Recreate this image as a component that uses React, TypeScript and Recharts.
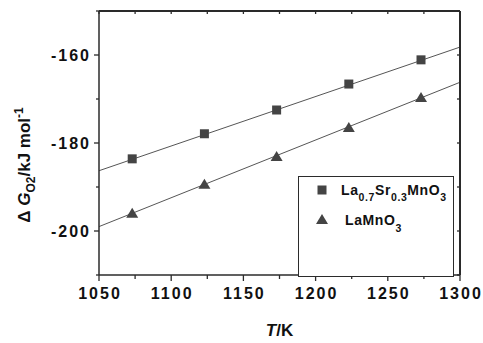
import React from "react";
import {
  ComposedChart,
  Line,
  Scatter,
  XAxis,
  YAxis,
  Legend,
} from "recharts";

const temps = [1073, 1123, 1173, 1223, 1273];
const lsmValues = [-183.6, -177.9, -172.5, -166.6, -161.1];
const lmoValues = [-196.1, -189.5, -183.2, -176.6, -169.8];

const fitTemps = [1050, 1300];
const lsmFit = [-186.3, -158.2];
const lmoFit = [-199.0, -166.2];

const xDomain = [1050, 1300];
const yDomain = [-210, -150];
const xTicks = [1050, 1075, 1100, 1125, 1150, 1175, 1200, 1225, 1250, 1275, 1300];
const yTicks = [-210, -200, -190, -180, -170, -160, -150];

const lsmPoints = temps.map((T, i) => ({ T, v: lsmValues[i] }));
const lmoPoints = temps.map((T, i) => ({ T, v: lmoValues[i] }));
const lsmLine = fitTemps.map((T, i) => ({ T, v: lsmFit[i] }));
const lmoLine = fitTemps.map((T, i) => ({ T, v: lmoFit[i] }));

const W = 483;
const H = 343;
const X_AXIS_H = 68;
const Y_AXIS_W = 99;
const MARGIN = { top: 11, right: 23, bottom: 0, left: 0 };
const PLOT_LEFT = MARGIN.left + Y_AXIS_W;
const PLOT_RIGHT = W - MARGIN.right;
const PLOT_BOTTOM = H - X_AXIS_H;

const FONT = '"Liberation Sans", Arial, sans-serif';
const AXIS = "#2b2b2b";
const MARK = "#444444";
const LINE = "#555555";

const SquareMark = (props: any) => {
  const { cx, cy } = props;
  return <rect x={cx - 4.5} y={cy - 4.5} width={9} height={9} fill={MARK} />;
};

const TriangleMark = (props: any) => {
  const { cx, cy } = props;
  return (
    <polygon
      points={`${cx},${cy - 6} ${cx + 6},${cy + 4} ${cx - 6},${cy + 4}`}
      fill={MARK}
    />
  );
};

// bottom ticks point out; top frame line and its inward ticks are drawn here too
const BottomTick = (props: any) => {
  const { x, y, payload } = props;
  const major = Number(payload.value) % 50 === 0;
  return (
    <g>
      <path d={`M${PLOT_LEFT},${MARGIN.top}H${PLOT_RIGHT}`} stroke={AXIS} strokeWidth={1.5} fill="none" />
      <line x1={x} x2={x} y1={y} y2={y + (major ? 6 : 4)} stroke={AXIS} strokeWidth={1.3} />
      <line x1={x} x2={x} y1={MARGIN.top} y2={MARGIN.top + 3} stroke={AXIS} strokeWidth={1.3} />
      {major && (
        <text
          x={x + 1}
          y={y + 24}
          textAnchor="middle"
          fontFamily={FONT}
          fontWeight="bold"
          fontSize={16}
          letterSpacing={2}
          fill="#111"
        >
          {payload.value}
        </text>
      )}
    </g>
  );
};

// left ticks point out; right frame line and its inward ticks are drawn here too
const LeftTick = (props: any) => {
  const { x, y, payload } = props;
  const major = Number(payload.value) % 20 === 0;
  return (
    <g>
      <path d={`M${PLOT_RIGHT},${MARGIN.top}V${PLOT_BOTTOM}`} stroke={AXIS} strokeWidth={1.5} fill="none" />
      <line x1={x} x2={x - (major ? 5 : 3)} y1={y} y2={y} stroke={AXIS} strokeWidth={1.3} />
      <line x1={PLOT_RIGHT} x2={PLOT_RIGHT - 3} y1={y} y2={y} stroke={AXIS} strokeWidth={1.3} />
      {major && (
        <text
          x={x - 8}
          y={y + 6}
          textAnchor="end"
          fontFamily={FONT}
          fontWeight="bold"
          fontSize={16}
          letterSpacing={2}
          fill="#111"
        >
          {payload.value}
        </text>
      )}
    </g>
  );
};

const XTitle = (props: any) => {
  const { viewBox } = props;
  return (
    <text
      x={viewBox.x + viewBox.width / 2}
      y={viewBox.y + 61}
      textAnchor="middle"
      fontFamily={FONT}
      fontWeight="bold"
      fontSize={17}
      fill="#111"
    >
      <tspan fontStyle="italic">T</tspan>/K
    </text>
  );
};

const YTitle = () => (
  <text
    transform="translate(30,165) rotate(-90)"
    textAnchor="middle"
    fontFamily={FONT}
    fontWeight="bold"
    fontSize={17}
    fill="#111"
  >
    {"Δ "}
    <tspan fontStyle="italic">G</tspan>
    <tspan fontSize={12} dy={5}>O2</tspan>
    <tspan dy={-5}>/kJ mol</tspan>
    <tspan fontSize={12} dy={-7}>-1</tspan>
  </text>
);

const LegendBox = () => (
  <svg width={157} height={102} style={{ display: "block" }}>
    <rect x={0.5} y={0.5} width={155} height={100} fill="#fff" stroke={AXIS} strokeWidth={1} />
    <rect x={19.5} y={9.5} width={9} height={9} fill={MARK} />
    <text x={43} y={19} fontFamily={FONT} fontWeight="bold" fontSize={14} letterSpacing={0.6} fill="#111">
      La<tspan fontSize={10.5} dy={6}>0.7</tspan>
      <tspan dy={-6}>Sr</tspan>
      <tspan fontSize={10.5} dy={6}>0.3</tspan>
      <tspan dy={-6}>MnO</tspan>
      <tspan fontSize={10.5} dy={6}>3</tspan>
    </text>
    <polygon points="24,38 30,48 18,48" fill={MARK} />
    <text x={47} y={49} fontFamily={FONT} fontWeight="bold" fontSize={14} letterSpacing={0.6} fill="#111">
      LaMnO<tspan fontSize={10.5} dy={7}>3</tspan>
    </text>
  </svg>
);

export default function App() {
  return (
    <div style={{ position: "absolute", left: 0, top: 0, width: W, height: H, background: "#fff" }}>
      <ComposedChart width={W} height={H} margin={MARGIN}>
        <XAxis
          xAxisId="bottom"
          dataKey="T"
          type="number"
          domain={xDomain}
          ticks={xTicks}
          interval={0}
          height={X_AXIS_H}
          tickSize={0}
          tickMargin={0}
          tickLine={false}
          tick={<BottomTick />}
          axisLine={{ stroke: AXIS, strokeWidth: 1.5 }}
          allowDataOverflow
          label={{ content: <XTitle /> }}
        />
        <YAxis
          yAxisId="left"
          type="number"
          domain={yDomain}
          ticks={yTicks}
          interval={0}
          width={Y_AXIS_W}
          tickSize={0}
          tickMargin={0}
          tickLine={false}
          tick={<LeftTick />}
          axisLine={{ stroke: AXIS, strokeWidth: 1.5 }}
          allowDataOverflow
          label={{ content: <YTitle /> }}
        />
        <Line
          xAxisId="bottom"
          yAxisId="left"
          data={lsmLine}
          dataKey="v"
          type="linear"
          stroke={LINE}
          strokeWidth={1}
          dot={false}
          activeDot={false}
          legendType="none"
          isAnimationActive={false}
        />
        <Line
          xAxisId="bottom"
          yAxisId="left"
          data={lmoLine}
          dataKey="v"
          type="linear"
          stroke={LINE}
          strokeWidth={1}
          dot={false}
          activeDot={false}
          legendType="none"
          isAnimationActive={false}
        />
        <Scatter
          xAxisId="bottom"
          yAxisId="left"
          name="La0.7Sr0.3MnO3"
          data={lsmPoints}
          dataKey="v"
          shape={<SquareMark />}
          isAnimationActive={false}
        />
        <Scatter
          xAxisId="bottom"
          yAxisId="left"
          name="LaMnO3"
          data={lmoPoints}
          dataKey="v"
          shape={<TriangleMark />}
          isAnimationActive={false}
        />
        <Legend
          layout="horizontal"
          verticalAlign="middle"
          align="center"
          wrapperStyle={{ left: 298, top: 176, width: 157, height: 102 }}
          content={<LegendBox />}
        />
      </ComposedChart>
    </div>
  );
}
